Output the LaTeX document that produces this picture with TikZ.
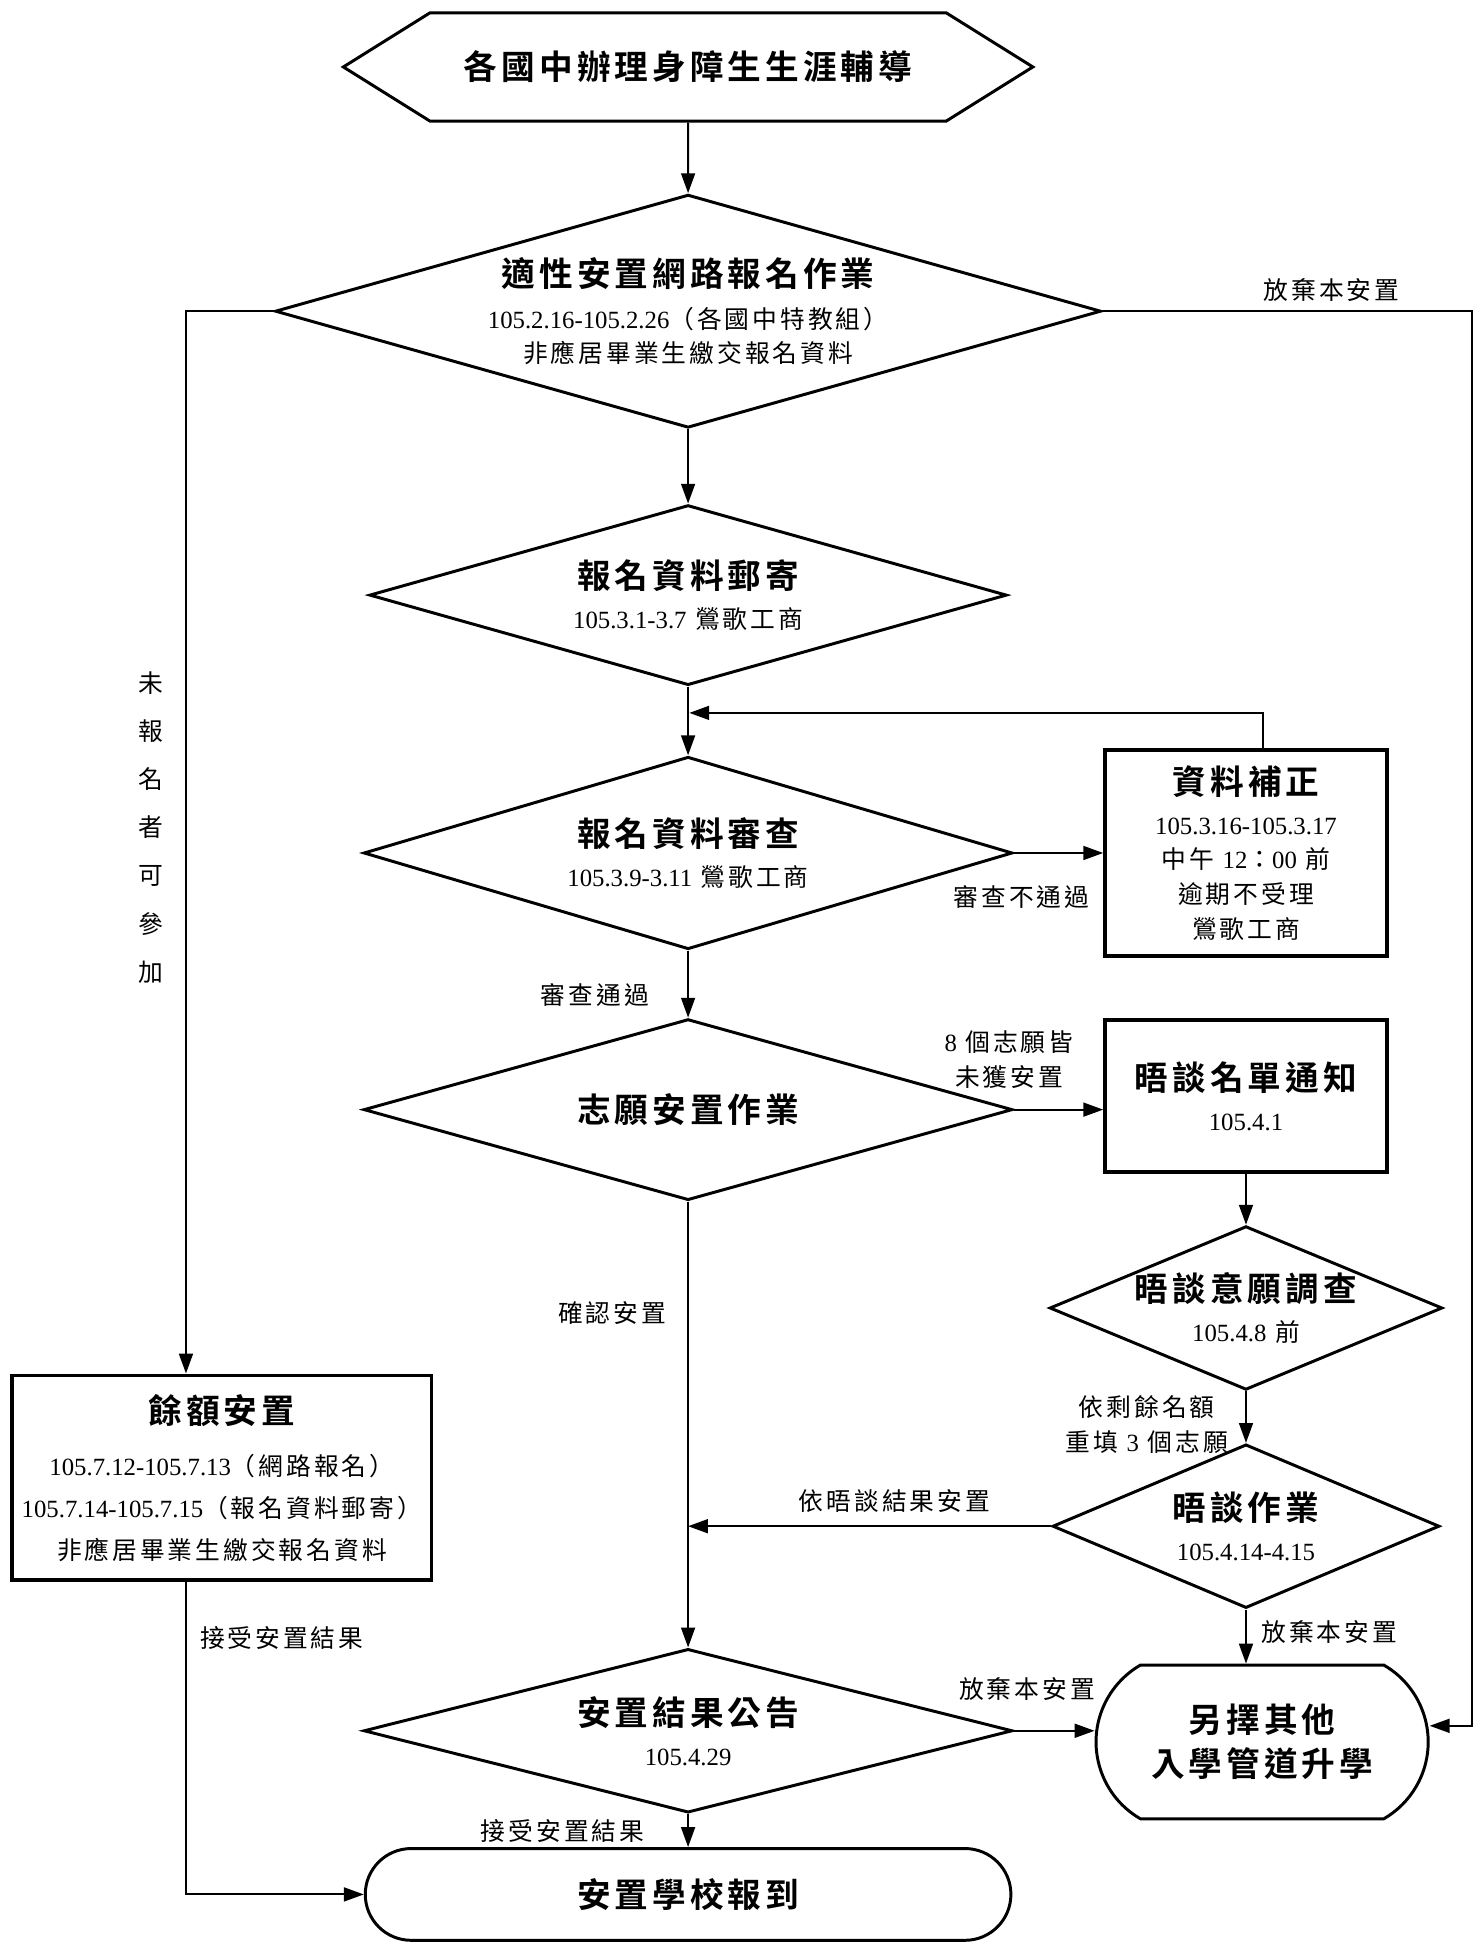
\documentclass[tikz,border=0pt]{standalone}
\usepackage{fontspec}
\setmainfont{Noto Sans CJK TC}[BoldFont={Noto Sans CJK TC Bold},LetterSpace=12]
\newfontfamily\tnr{Liberation Serif}
\usetikzlibrary{shapes.geometric}
\usetikzlibrary{shapes.misc}
\usetikzlibrary{shapes.symbols}
\usetikzlibrary{arrows.meta}
\usetikzlibrary{graphs}
\newcommand{\fttitle}{\fontsize{19.3}{24}\selectfont\bfseries}
\newcommand{\ftbody}{\fontsize{14.2}{20}\selectfont}
\tikzstyle{hexa} = [signal, signal to=west and east, signal pointer angle=64, draw, line width=1.7pt, font=\fttitle]
\tikzstyle{decision} = [diamond, draw, line width=1.7pt, inner sep=0pt, align=center, font=\ftbody]
\tikzstyle{process} = [rectangle, draw, line width=2.2pt, align=center, font=\ftbody]
\tikzstyle{terminal} = [rounded rectangle, draw, line width=1.7pt, align=center, font=\fttitle]
\tikzstyle{flow} = [->, line width=1.1pt]
\tikzstyle{note} = [font=\ftbody, align=center]

\begin{document}
\begin{tikzpicture}[x=0.025cm, y=-0.025cm, >={Triangle[length=4mm,width=2.8mm]}]
        \useasboundingbox (0,0) rectangle (1194,1568);

        \node[hexa, minimum width=13.9cm, minimum height=2.18cm] (12) at (555,54) {各國中辦理身障生生涯輔導};
        \node[decision, aspect=3.54, minimum width=16.65cm, minimum height=4.7cm] (22) at (555,251)
            {{\fttitle 適性安置網路報名作業}\\[4pt]{\tnr 105.2.16-105.2.26}（各國中特教組）\\非應居畢業生繳交報名資料};
        \node[decision, aspect=3.54, minimum width=12.85cm, minimum height=3.63cm] (32) at (555,480)
            {{\fttitle 報名資料郵寄}\\[3pt]{\tnr 105.3.1-3.7} 鶯歌工商};
        \node[decision, aspect=3.37, minimum width=13.08cm, minimum height=3.88cm] (42) at (555,688)
            {{\fttitle 報名資料審查}\\[3pt]{\tnr 105.3.9-3.11} 鶯歌工商};
        \node[process, minimum width=5.68cm, minimum height=4.15cm] (43) at (1005,688)
            {{\fttitle 資料補正}\\[3pt]{\tnr 105.3.16-105.3.17}\\中午 {\tnr 12}：{\tnr 00} 前\\逾期不受理\\鶯歌工商};
        \node[decision, aspect=3.58, minimum width=13.08cm, minimum height=3.65cm] (52) at (555,895)
            {{\fttitle 志願安置作業}};
        \node[process, minimum width=5.68cm, minimum height=3.05cm] (53) at (1005,884)
            {{\fttitle 晤談名單通知}\\[3pt]{\tnr 105.4.1}};
        \node[decision, aspect=2.4, minimum width=7.8cm, minimum height=3.25cm] (63) at (1005,1055)
            {{\fttitle 晤談意願調查}\\[3pt]{\tnr 105.4.8} 前};
        \node[process, minimum width=8.45cm, minimum height=4.13cm] (71) at (179,1192)
            {{\fttitle 餘額安置}\\[10pt]{\tnr 105.7.12-105.7.13}（網路報名）\\[4pt]{\tnr 105.7.14-105.7.15}（報名資料郵寄）\\[4pt]非應居畢業生繳交報名資料};
        \node[decision, aspect=2.36, minimum width=7.8cm, minimum height=3.3cm] (73) at (1005,1231)
            {{\fttitle 晤談作業}\\[3pt]{\tnr 105.4.14-4.15}};
        \node[decision, aspect=3.96, minimum width=13.08cm, minimum height=3.3cm] (82) at (555,1396)
            {{\fttitle 安置結果公告}\\[3pt]{\tnr 105.4.29}};
        \node[terminal, rounded rectangle arc length=120, minimum width=6.93cm, minimum height=3.1cm] (83) at (1018,1405)
            {另擇其他\\[1pt]入學管道升學};
        \node[terminal, minimum width=13.25cm, minimum height=1.85cm] (92) at (555,1528) {安置學校報到};

        \coordinate (fb) at (556,575);
        \coordinate (rt) at (1187,1392);

        \graph[edges={line width=1.1pt}] {
            (12) -> (22);
            (22) -> (32);
            (32) -> (42);
            (53) -> (63);
        };

        \draw[flow] ([xshift=0.35cm]43.north) |- (fb);
        \draw[flow] (42.east) -- node[note, xshift=-0.75cm, yshift=-0.88cm] (l1) {審查不通過} (43.west);
        \draw[flow] (42.south) -- node[note, xshift=-1.88cm, yshift=-0.22cm] (l2) {審查通過} (52.north);
        \draw[flow] (52.east) -- node[note, xshift=-1.0cm, yshift=1.0cm] (l3) {{\tnr 8} 個志願皆\\未獲安置} (52.east -| 53.west);
        \draw[flow] (63.south) -- node[note, xshift=-2.0cm, yshift=-0.15cm] (l4) {依剩餘名額\\重填 {\tnr 3} 個志願} (73.north);
        \draw[flow] (73.west) -- node[note, xshift=0.5cm, yshift=0.5cm] (l5) {依晤談結果安置} (73.west -| 52.south);
        \draw[flow] (73.south) -- node[note, xshift=1.68cm, yshift=0.1cm] (l6) {放棄本安置} (73.south |- 83.north);
        \draw[flow] (52.south) -- node[note, pos=0.25, xshift=-1.53cm] (l7) {確認安置} (82.north);
        \draw[flow] (82.east) -- node[note, xshift=-0.55cm, yshift=0.85cm] (l8) {放棄本安置} (82.east -| 83.west);
        \draw[flow] (82.south) -- node[note, xshift=-2.53cm] (l9) {接受安置結果} (92.north);
        \draw[flow] (22.east) -| node[note, pos=0.31, yshift=0.43cm] (l10) {放棄本安置} (rt) -- (rt -| 83.east);
        \draw[flow] (22.west) -| node[note, pos=0.743, xshift=-0.7cm] (l11) {未\\[7.6pt]報\\[7.6pt]名\\[7.6pt]者\\[7.6pt]可\\[7.6pt]參\\[7.6pt]加} ([xshift=-0.725cm]71.north);
        \draw[flow] ([xshift=-0.725cm]71.south) |- node[note, pos=0.09, xshift=1.93cm] (l12) {接受安置結果} (92.west);
    \end{tikzpicture}
\end{document}
